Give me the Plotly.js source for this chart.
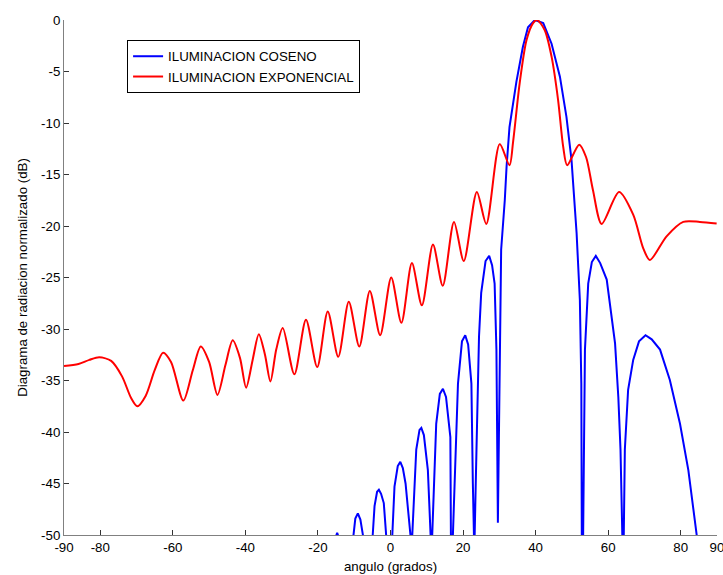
<!DOCTYPE html>
<html>
<head>
<meta charset="utf-8">
<script src="https://cdn.plot.ly/plotly-3.0.1.min.js"></script>
<style>html,body{margin:0;padding:0;background:#fff;}#chart{width:723px;height:575px;}</style>
</head>
<body>
<div id="chart"></div>
<script>
// Iluminacion coseno (blue)
const cosX = [-16.0,-15.2,-14.7,-14.2,-12.5,-10.2,-9.7,-9.0,-8.3,-7.6,-6.3,-4.9,-4.4,-3.7,-3.2,-2.6,-1.85,-1.2,-0.3,0.5,1.1,2.0,2.7,3.4,4.15,5.5,5.75,6.0,7.1,8.0,8.5,9.2,10.3,11.05,11.25,11.5,12.6,13.6,14.45,15.3,16.5,16.9,17.05,17.2,17.7,18.6,19.7,20.6,21.4,22.3,22.7,23.0,23.1,23.2,23.7,24.4,25.0,26.2,27.2,28.0,28.7,29.2,29.6,30.2,30.5,31.5,32.0,32.8,34.0,34.7,36.5,37.9,39.8,42.1,44.4,46.7,48.5,49.9,51.3,52.2,52.6,52.8,52.95,53.1,53.6,54.5,55.5,56.6,57.8,59.6,61.9,62.8,63.4,63.9,64.1,64.3,64.6,65.5,66.9,68.5,70.3,72.0,74.3,77.0,79.8,82.1,84.4,85.5];
const cosY = [-75,-50.3,-49.8,-50.3,-75,-50,-48.4,-47.9,-48.5,-50,-75,-50,-47.2,-45.8,-45.6,-46.0,-46.9,-50,-75,-50,-45.3,-43.3,-42.9,-43.5,-45,-50,-75,-50,-41.7,-39.8,-39.6,-40.3,-43.7,-50,-75,-50,-39.2,-36.3,-35.8,-36.6,-40.5,-50,-75,-50,-45,-35.3,-31.2,-30.6,-31.5,-35.3,-45,-50,-75,-50,-41.7,-30.7,-26.5,-23.4,-22.9,-23.8,-25.6,-32.0,-48.8,-30,-22.3,-17.5,-14.2,-10.4,-7.5,-6.0,-2.6,-0.7,0,-0.3,-2.3,-5.5,-9.4,-13.6,-20.7,-27.2,-35.3,-50,-75,-50,-32.0,-25.6,-23.5,-22.9,-23.6,-25.2,-31.4,-36.6,-41.7,-50,-75,-50,-41.7,-35.9,-33.0,-31.2,-30.6,-31.0,-32.0,-34.95,-39.2,-43.7,-50,-53];

// Iluminacion exponencial (red)
const expX = [-90,-86,-83,-80.3,-77,-74,-71.5,-69.8,-67.5,-65,-62.7,-60.5,-57.1,-54.5,-52.3,-50,-47.7,-45.5,-43.5,-41.5,-39.8,-38,-36.3,-34.6,-33.1,-31.5,-29.7,-26.5,-23.3,-20.2,-17.3,-14.4,-11.5,-8.6,-5.7,-2.85,0.2,3.0,5.9,8.65,11.7,14.4,17.5,20.2,23.8,26.4,30.1,32.8,33.8,35.6,37.5,39.3,40.4,42.5,44.4,46.2,47.6,48.7,52.0,53.9,55.8,58.2,63.0,66.9,69.7,71.5,76.1,80.7,85.3,89.9];
const expY = [-33.6,-33.4,-33.0,-32.75,-33.1,-34.6,-36.7,-37.5,-36.5,-34.0,-32.3,-33.2,-36.95,-34.0,-31.7,-33.2,-36.4,-33.5,-31.1,-32.8,-35.7,-33,-30.5,-32.5,-35.1,-32,-29.9,-34.4,-29.1,-33.7,-28.3,-32.7,-27.35,-31.7,-26.3,-30.6,-25.0,-29.4,-23.6,-27.7,-21.8,-25.8,-19.6,-23.4,-16.7,-19.8,-12.05,-14.1,-11.8,-6.15,-1.94,-0.3,0,-0.97,-3.56,-7.77,-12.3,-14.1,-12.1,-13.3,-16.5,-19.8,-16.7,-18.9,-22.2,-23.3,-21.0,-19.6,-19.6,-19.75];

const xTicks = [-90,-80,-60,-40,-20,0,20,40,60,80,90];
const yTicks = [0,-5,-10,-15,-20,-25,-30,-35,-40,-45,-50];

const font = {family: 'Arial, "Liberation Sans", sans-serif', size: 13.3, color: '#000'};

const traces = [
  {x: cosX, y: cosY, mode: 'lines', name: 'ILUMINACION COSENO', line: {color: '#0000ff', width: 2}},
  {x: expX, y: expY, mode: 'lines', name: 'ILUMINACION EXPONENCIAL', line: {color: '#ff0000', width: 2, shape: 'spline', smoothing: 0.8}}
];

const layout = {
  width: 723, height: 575,
  margin: {l: 64, r: 6, t: 20, b: 40},
  paper_bgcolor: '#fff', plot_bgcolor: '#fff',
  font: font,
  showlegend: true,
  legend: {x: 0.0966, y: 0.961, xanchor: 'left', yanchor: 'top', bgcolor: '#fff', bordercolor: '#000', borderwidth: 1, font: font, tracegroupgap: 0},
  xaxis: {
    range: [-90, 90], tickvals: xTicks, ticktext: xTicks.map(String),
    showline: true, linecolor: '#808080', linewidth: 1, mirror: false,
    ticks: 'inside', ticklen: 5, tickcolor: '#333', showgrid: false, zeroline: false,
    ticklabeloverflow: 'allow',
    tickfont: font, title: {text: 'angulo (grados)', font: font, standoff: 7}
  },
  yaxis: {
    range: [-50, 0], tickvals: yTicks, ticktext: yTicks.map(String),
    showline: true, linecolor: '#808080', linewidth: 1, mirror: false,
    ticks: 'inside', ticklen: 5, tickcolor: '#333', showgrid: false, zeroline: false,
    ticklabeloverflow: 'allow',
    tickfont: font, title: {text: 'Diagrama de radiacion normalizado (dB)', font: font, standoff: 10}
  }
};

Plotly.newPlot('chart', traces, layout, {displayModeBar: false, staticPlot: true});
</script>
</body>
</html>
